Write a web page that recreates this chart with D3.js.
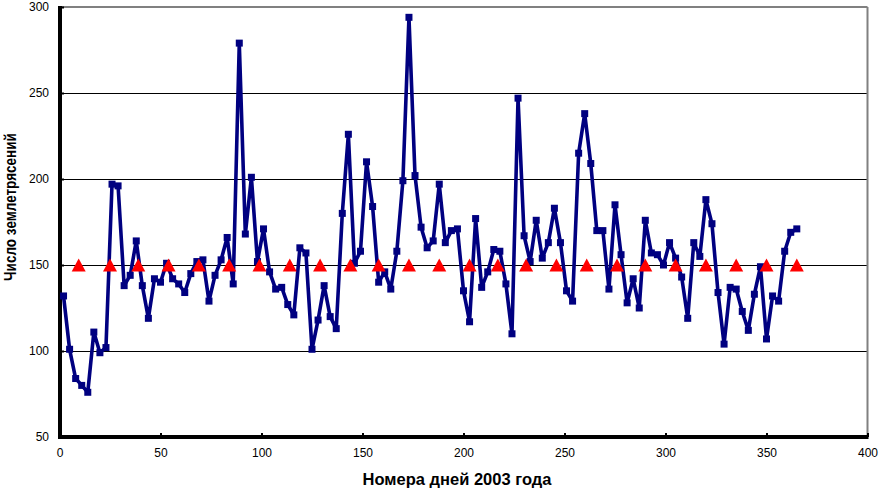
<!DOCTYPE html>
<html>
<head>
<meta charset="utf-8">
<script src="https://cdn.jsdelivr.net/npm/d3@7"></script>
<style>
  html, body { margin: 0; padding: 0; background: #fff; }
  svg { display: block; }
  text { font-family: "Liberation Sans", Arial, sans-serif; }
</style>
</head>
<body>
<svg id="chart" width="881" height="490"></svg>
<script>
// Day numbers of the series points (every 3 days)
const days = [2,5,8,11,14,17,20,23,26,29,32,35,38,41,44,47,50,53,56,59,
  62,65,68,71,74,77,80,83,86,89,92,95,98,101,104,107,110,113,116,119,
  122,125,128,131,134,137,140,143,146,149,152,155,158,161,164,167,170,173,176,179,
  182,185,188,191,194,197,200,203,206,209,212,215,218,221,224,227,230,233,236,239,
  242,245,248,251,254,257,260,263,266,269,272,275,278,281,284,287,290,293,296,299,
  302,305,308,311,314,317,320,323,326,329,332,335,338,341,344,347,350,353,356,359,
  362,365];
// Number of earthquakes
const counts = [132,101,84,80,76,111,99,102,197,196,138,144,164,138,119,142,140,151,142,139,
  134,145,152,153,129,144,153,166,139,279,168,201,152,171,146,136,137,127,121,160,
  157,101,118,138,120,113,180,226,151,158,210,184,140,146,136,158,199,294,202,172,
  160,164,197,163,170,171,135,117,177,137,146,159,158,139,110,247,167,152,176,154,
  163,183,163,135,129,215,238,209,170,170,136,185,156,128,142,125,176,157,156,150,
  163,154,143,119,163,155,188,174,134,104,137,136,123,112,133,149,107,132,129,158,
  169,171];
// Moon-phase marker days (value 150)
const phaseDays = [9.5,25,39,54,69,84,99,114,129,144,158,173,188,203,217,231,246,261,276,290,305,320,335,350,365];
const phaseValue = 150;

const xTicks = [0,50,100,150,200,250,300,350,400];
const yTicks = [50,100,150,200,250,300];
const gridValues = [100,150,200,250];
const xTitle = "Номера дней 2003 года";
const yTitle = "Число землетрясений";

const svg = d3.select("#chart");
const L = 60, R = 867.5, T = 7, B = 437;
const x = d3.scaleLinear().domain([0, 400]).range([59.5, 867.5]);
const y = d3.scaleLinear().domain([50, 300]).range([B, T]);

// gridlines (crisp)
svg.append("g").selectAll("line").data(gridValues).join("line")
  .attr("x1", L).attr("x2", R)
  .attr("y1", d => Math.round(y(d)) + 0.5).attr("y2", d => Math.round(y(d)) + 0.5)
  .attr("stroke", "#000").attr("stroke-width", 1);

// top and right borders (gray)
svg.append("line").attr("x1", L).attr("x2", R).attr("y1", T).attr("y2", T)
  .attr("stroke", "#808080").attr("stroke-width", 2);
svg.append("line").attr("x1", R).attr("x2", R).attr("y1", T).attr("y2", B)
  .attr("stroke", "#808080").attr("stroke-width", 2);

// axes
const yAxis = d3.axisLeft(y).tickValues(yTicks).tickSize(-4).tickPadding(11).tickFormat(d3.format("d"));
const gy = svg.append("g").attr("transform", `translate(${L},0)`).call(yAxis);
gy.select(".domain").remove();
gy.selectAll(".tick line").attr("stroke", "#000").attr("stroke-width", 2);
gy.selectAll("text").attr("font-size", 12).attr("fill", "#000");

const xAxis = d3.axisBottom(x).tickValues(xTicks).tickSize(-4).tickPadding(11).tickFormat(d3.format("d"));
const gx = svg.append("g").attr("transform", `translate(0,${B})`).call(xAxis);
gx.select(".domain").remove();
gx.selectAll(".tick line").attr("stroke", "#000").attr("stroke-width", 2);
gx.selectAll("text").attr("font-size", 12).attr("fill", "#000");

svg.append("line").attr("x1", L).attr("x2", L).attr("y1", T - 1).attr("y2", B + 2)
  .attr("stroke", "#000").attr("stroke-width", 4);
svg.append("line").attr("x1", L - 2).attr("x2", R + 1).attr("y1", B).attr("y2", B)
  .attr("stroke", "#000").attr("stroke-width", 4);

// series line
const pts = days.map((d, i) => [d, counts[i]]);
svg.append("path").datum(pts)
  .attr("fill", "none").attr("stroke", "#000080").attr("stroke-width", 3.6)
  .attr("stroke-linejoin", "round")
  .attr("d", d3.line().x(d => x(d[0])).y(d => y(d[1])));
svg.append("g").selectAll("rect").data(pts).join("rect")
  .attr("x", d => x(d[0]) - 3.5).attr("y", d => y(d[1]) - 3.5)
  .attr("width", 7).attr("height", 7).attr("fill", "#000080");

// triangles
svg.append("g").selectAll("path").data(phaseDays).join("path")
  .attr("d", d => {
    const cx = x(d), cy = y(phaseValue);
    return `M${cx - 7},${cy + 6.5}L${cx + 7},${cy + 6.5}L${cx},${cy - 6.5}Z`;
  })
  .attr("fill", "#ff0000");

// titles
svg.append("text").attr("x", 457).attr("y", 485).attr("text-anchor", "middle")
  .attr("font-size", 16.5).attr("font-weight", "bold").text(xTitle);
svg.append("text").attr("transform", "translate(16,207) rotate(-90) scale(0.82,1)").attr("text-anchor", "middle")
  .attr("font-size", 16.5).attr("font-weight", "bold").text(yTitle);
</script>
</body>
</html>
